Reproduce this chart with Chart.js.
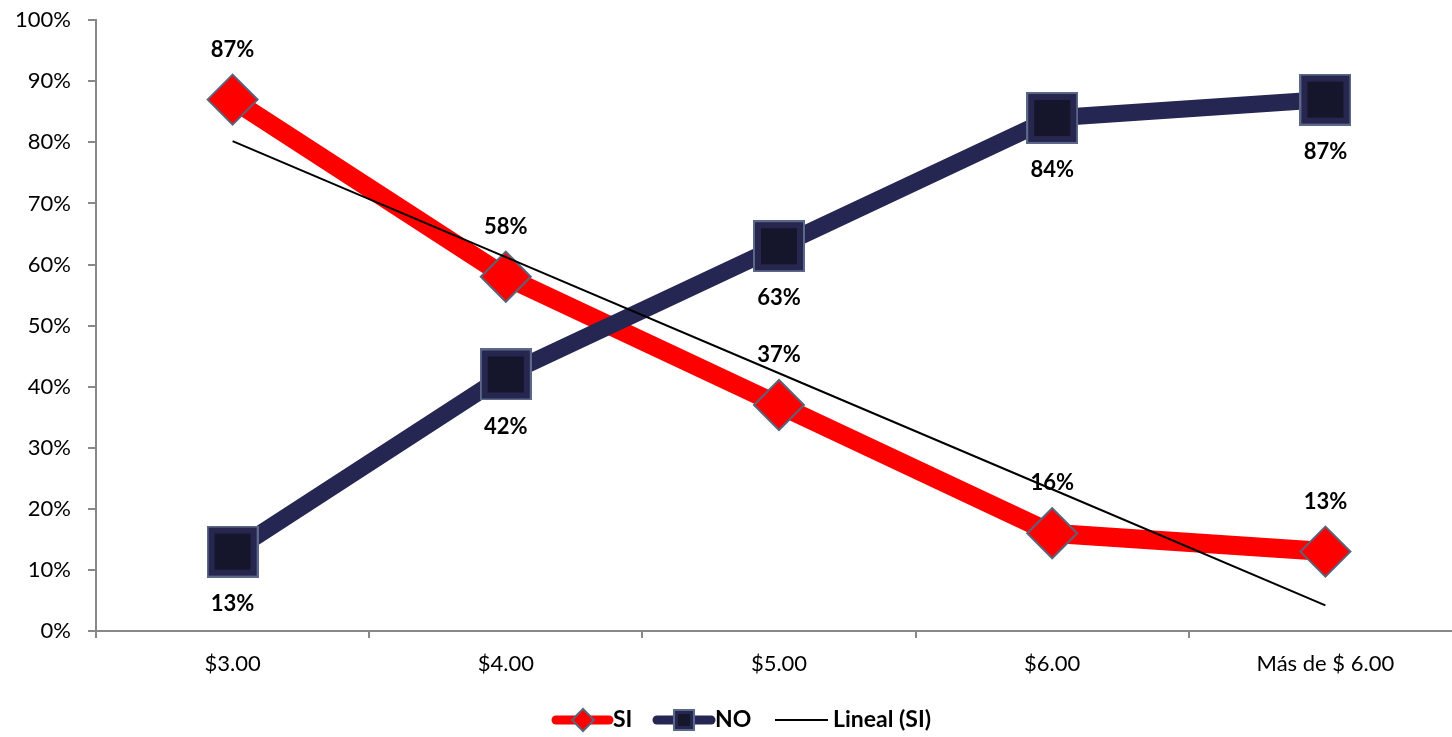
<!DOCTYPE html>
<html>
<head>
<meta charset="utf-8">
<script src="https://cdn.jsdelivr.net/npm/chart.js@4.4.1/dist/chart.umd.min.js"></script>
<style>
  html, body { margin: 0; padding: 0; background: #fff; overflow: hidden; }
  #wrap { width: 1463px; height: 747px; margin-top: -10px; }
</style>
</head>
<body>
<div id="wrap"><canvas id="chart" width="1463" height="747"></canvas></div>
<script>
// datos
const categorias = ['$3.00', '$4.00', '$5.00', '$6.00', 'Más de $ 6.00'];
const si = [87, 58, 37, 16, 13];
const no = [13, 42, 63, 84, 87];
const yTicks = [0, 10, 20, 30, 40, 50, 60, 70, 80, 90, 100];

const FONT = 'Lato, "Open Sans", sans-serif';
const ROJO = '#ff0000';
const AZUL = '#262652';

// linea de tendencia lineal (como la de Excel) sobre SI
function tendencia(vals) {
  const n = vals.length;
  const xs = vals.map((v, i) => i + 1);
  const mx = xs.reduce((a, b) => a + b, 0) / n;
  const my = vals.reduce((a, b) => a + b, 0) / n;
  let num = 0, den = 0;
  xs.forEach((x, i) => { num += (x - mx) * (vals[i] - my); den += (x - mx) * (x - mx); });
  const m = num / den;
  return xs.map(x => my + m * (x - mx));
}

// marcador cuadrado con borde biselado
function cuadrado(size) {
  const c = document.createElement('canvas');
  c.width = size; c.height = size;
  const g = c.getContext('2d');
  g.fillStyle = '#5c6889';
  g.fillRect(0, 0, size, size);
  g.fillStyle = '#26264f';
  g.fillRect(2, 2, size - 4, size - 4);
  const b = Math.round(size * 0.12);
  g.fillStyle = '#15152b';
  g.fillRect(2 + b, 2 + b, size - 4 - 2 * b, size - 4 - 2 * b);
  return c;
}
const marcaNo = cuadrado(52);
const marcaNoMini = cuadrado(22);

const etiquetas = {
  id: 'etiquetas',
  afterDatasetsDraw(chart) {
    const ctx = chart.ctx;
    ctx.save();
    ctx.font = 'bold 22px ' + FONT;
    ctx.fillStyle = '#000';
    ctx.textAlign = 'center';
    ctx.textBaseline = 'middle';
    chart.getDatasetMeta(0).data.forEach((p, i) => ctx.fillText(si[i] + '%', p.x, p.y - 50));
    chart.getDatasetMeta(1).data.forEach((p, i) => ctx.fillText(no[i] + '%', p.x, p.y + 52));
    ctx.restore();
  }
};

// leyenda propia abajo (linea + marcador)
const leyenda = {
  id: 'leyenda',
  afterDraw(chart) {
    const ctx = chart.ctx;
    const y = 730;
    ctx.save();
    ctx.lineCap = 'round';
    // SI
    ctx.strokeStyle = ROJO; ctx.lineWidth = 9;
    ctx.beginPath(); ctx.moveTo(556, y); ctx.lineTo(609, y); ctx.stroke();
    ctx.fillStyle = ROJO; ctx.strokeStyle = '#5a6478'; ctx.lineWidth = 2;
    ctx.beginPath(); ctx.moveTo(572, y); ctx.lineTo(583, y - 11); ctx.lineTo(594, y); ctx.lineTo(583, y + 11); ctx.closePath();
    ctx.fill(); ctx.stroke();
    // NO
    ctx.strokeStyle = AZUL; ctx.lineWidth = 9;
    ctx.beginPath(); ctx.moveTo(657, y); ctx.lineTo(711, y); ctx.stroke();
    ctx.drawImage(marcaNoMini, 684 - 11, y - 11);
    // Lineal
    ctx.strokeStyle = '#000'; ctx.lineWidth = 2; ctx.lineCap = 'butt';
    ctx.beginPath(); ctx.moveTo(775, y); ctx.lineTo(828, y); ctx.stroke();
    ctx.font = 'bold 23px ' + FONT;
    ctx.fillStyle = '#000';
    ctx.textBaseline = 'middle';
    ctx.fillText('SI', 613, y);
    ctx.fillText('NO', 715, y);
    ctx.fillText('Lineal (SI)', 833, y);
    ctx.restore();
  }
};

new Chart(document.getElementById('chart'), {
  type: 'line',
  data: {
    labels: categorias,
    datasets: [
      {
        label: 'SI',
        data: si,
        borderColor: ROJO,
        backgroundColor: ROJO,
        borderWidth: 19,
        pointStyle: 'rectRot',
        pointRadius: 25,
        pointHoverRadius: 25,
        pointBackgroundColor: ROJO,
        pointBorderColor: '#5a6478',
        pointBorderWidth: 2,
        order: 2
      },
      {
        label: 'NO',
        data: no,
        borderColor: AZUL,
        backgroundColor: AZUL,
        borderWidth: 17,
        pointStyle: marcaNo,
        pointRadius: 26,
        order: 1
      },
      {
        label: 'Lineal (SI)',
        data: tendencia(si),
        borderColor: '#000',
        borderWidth: 2,
        pointRadius: 0,
        order: 0
      }
    ]
  },
  options: {
    responsive: false,
    animation: false,
    layout: { autoPadding: false, padding: { top: 10, right: 1, left: 0, bottom: 0 } },
    plugins: {
      legend: { display: false },
      tooltip: { enabled: false }
    },
    scales: {
      x: {
        offset: true,
        grid: { offset: true, drawOnChartArea: false, drawTicks: true, tickLength: 7, color: '#888', lineWidth: 2 },
        border: { color: '#888', width: 2 },
        ticks: { color: '#000', font: { family: FONT, size: 22 }, padding: 13, maxRotation: 0 },
        afterFit(s) { s.height = 106; }
      },
      y: {
        min: 0,
        max: 100,
        afterBuildTicks(s) { s.ticks = yTicks.map(v => ({ value: v })); },
        grid: { drawOnChartArea: false, drawTicks: true, tickLength: 8, color: '#888', lineWidth: 2 },
        border: { color: '#888', width: 2 },
        ticks: { color: '#000', font: { family: FONT, size: 22 }, padding: 17, callback: v => v + '%' },
        afterFit(s) { s.width = 96; }
      }
    }
  },
  plugins: [etiquetas, leyenda]
});
</script>
</body>
</html>
